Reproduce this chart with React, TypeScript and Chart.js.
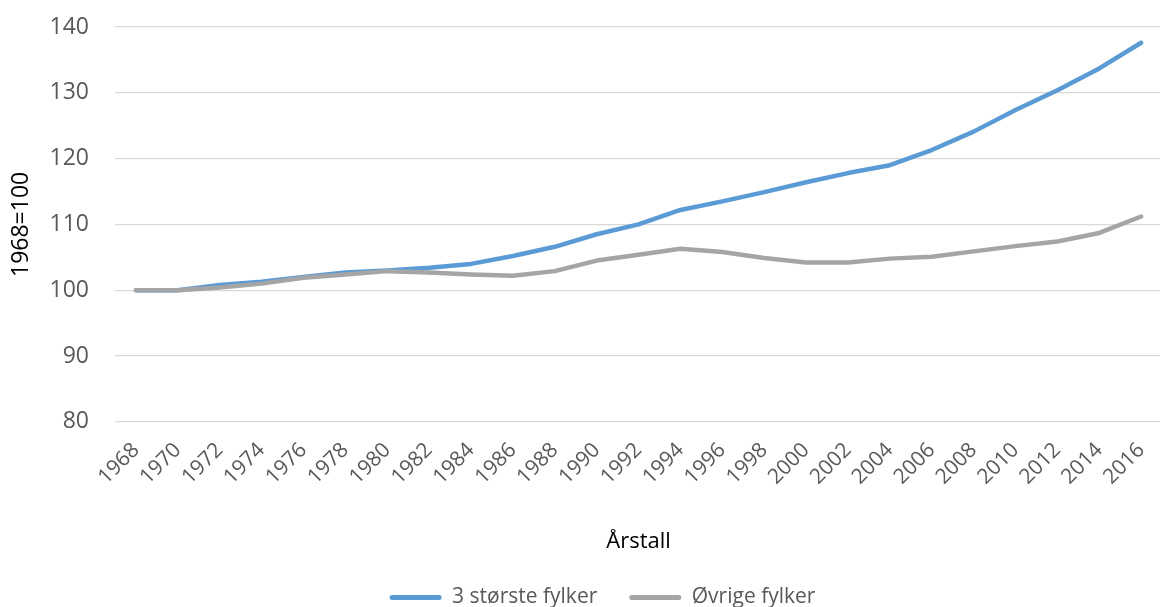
import React, { useEffect, useRef } from "react";
import { Chart, registerables } from "chart.js";

Chart.register(...registerables);

const years: string[] = [
  "1968", "1970", "1972", "1974", "1976", "1978", "1980", "1982", "1984",
  "1986", "1988", "1990", "1992", "1994", "1996", "1998", "2000", "2002",
  "2004", "2006", "2008", "2010", "2012", "2014", "2016",
];

const storsteFylker: number[] = [
  100, 100.0, 100.8, 101.3, 102.0, 102.7, 103.0, 103.4, 104.0, 105.2, 106.6,
  108.5, 110.0, 112.2, 113.5, 114.9, 116.4, 117.8, 119.0, 121.3, 124.1, 127.4,
  130.4, 133.7, 137.6,
];

const ovrigeFylker: number[] = [
  100, 100.0, 100.4, 101.0, 101.9, 102.4, 102.9, 102.7, 102.4, 102.2, 102.9,
  104.5, 105.4, 106.3, 105.8, 104.9, 104.2, 104.2, 104.8, 105.1, 105.9, 106.7,
  107.4, 108.7, 111.2,
];

const seriesNames: string[] = ["3 største fylker", "Øvrige fylker"];
const yTitle = "1968=100";
const xTitle = "Årstall";

export default function App() {
  const ref = useRef<HTMLCanvasElement | null>(null);

  useEffect(() => {
    if (!ref.current) return;
    const fam = "'Open Sans', sans-serif";
    const chart = new Chart(ref.current, {
      type: "line",
      data: {
        labels: years,
        datasets: [
          {
            label: seriesNames[0],
            data: storsteFylker,
            borderColor: "#5B9BD5",
            backgroundColor: "#5B9BD5",
            borderWidth: 4.5,
            pointRadius: 0,
            tension: 0,
            borderCapStyle: "round",
            borderJoinStyle: "round",
            order: 1,
          },
          {
            label: seriesNames[1],
            data: ovrigeFylker,
            borderColor: "#A5A5A5",
            backgroundColor: "#A5A5A5",
            borderWidth: 4.5,
            pointRadius: 0,
            tension: 0,
            borderCapStyle: "round",
            borderJoinStyle: "round",
            order: 0,
          },
        ],
      },
      options: {
        animation: false,
        responsive: false,
        devicePixelRatio: 1,
        layout: { padding: { left: 32, top: 27, right: 2, bottom: 0 } },
        plugins: {
          tooltip: { enabled: false },
          legend: {
            position: "bottom",
            labels: {
              font: { family: fam, size: 21 },
              color: "#595959",
              boxWidth: 52,
              boxHeight: 5,
              padding: 32,
              useBorderRadius: true,
              borderRadius: 2.5,
              generateLabels: (ch: any) =>
                ch.data.datasets.map((ds: any, i: number) => ({
                  text: ds.label,
                  fillStyle: ds.borderColor,
                  strokeStyle: ds.borderColor,
                  lineWidth: 0,
                  fontColor: "#595959",
                  hidden: false,
                  datasetIndex: i,
                  borderRadius: 2.5,
                })),
            },
          },
        },
        scales: {
          x: {
            offset: true,
            grid: { display: false, drawTicks: false },
            border: { display: false },
            ticks: {
              minRotation: 45,
              maxRotation: 45,
              autoSkip: false,
              color: "#595959",
              font: { family: fam, size: 21 },
              padding: 16,
            },
            title: {
              display: true,
              text: xTitle,
              color: "#000000",
              font: { family: fam, size: 22 },
              padding: { top: 23, bottom: 0 },
            },
          },
          y: {
            min: 80,
            max: 140,
            afterFit: (scale: any) => {
              scale.width = 83;
              scale.paddingTop = 0;
              scale.paddingBottom = 0;
            },
            grid: { color: "#D9D9D9", lineWidth: 1.3, drawTicks: false },
            border: { display: false },
            ticks: {
              stepSize: 10,
              color: "#595959",
              font: { family: fam, size: 23 },
              padding: 26,
            },
            title: {
              display: true,
              text: yTitle,
              color: "#000000",
              font: { family: fam, size: 23 },
              padding: { top: -24, bottom: 0 },
            },
          },
        },
      },
    } as any);
    return () => chart.destroy();
  }, []);

  return (
    <div
      style={{
        position: "fixed",
        left: 0,
        top: 0,
        width: 1160,
        height: 607,
        overflow: "hidden",
        background: "#ffffff",
      }}
    >
      <canvas ref={ref} width={1175} height={618} style={{ display: "block" }} />
    </div>
  );
}
